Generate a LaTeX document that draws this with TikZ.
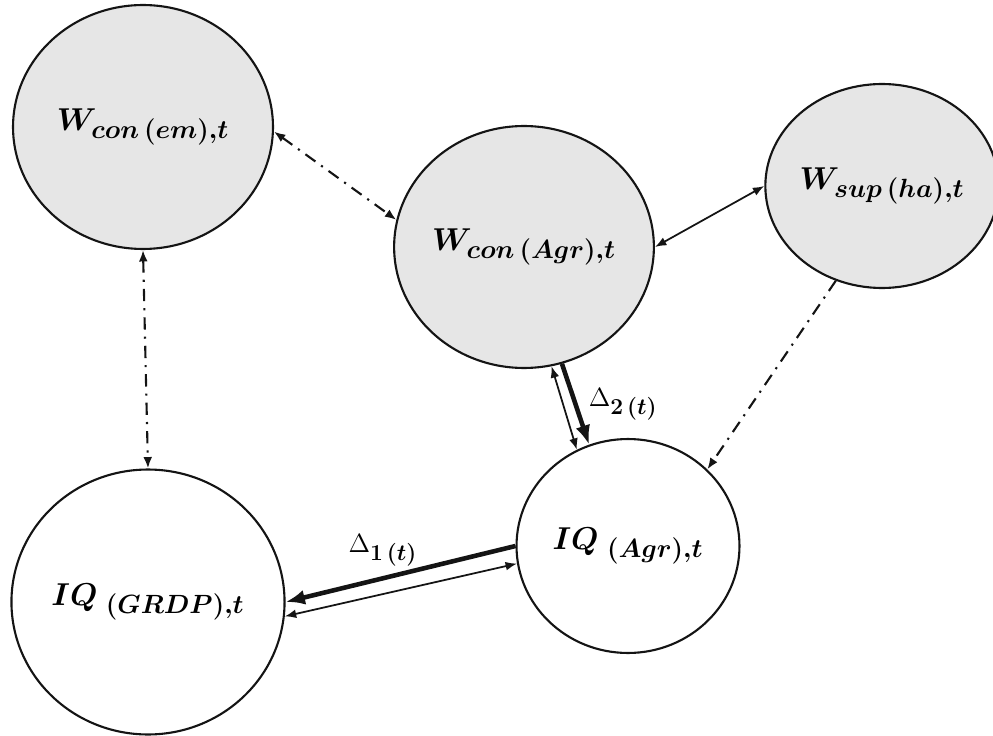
\RequirePackage{fix-cm}
\documentclass[tikz,border=0pt]{standalone}
\usepackage{amsmath,amssymb}
\usetikzlibrary{arrows.meta,shapes.geometric}
\DeclareMathSizes{18}{18}{15}{11}
\DeclareMathSizes{15}{15}{13}{9}
\definecolor{grisW}{HTML}{E6E6E6}
\definecolor{trazo}{HTML}{141414}

\begin{document}
\begin{tikzpicture}[x=0.02cm,y=-0.02cm,>={Latex[length=6.5pt,width=5pt]},
  estado/.style={ellipse,draw=trazo,line width=1.2pt,inner sep=0pt,
    font=\fontsize{18}{20}\selectfont\boldmath},
  bienestar/.style={estado,fill=grisW},
  enlace/.style={draw=trazo,line width=1pt},
  difuso/.style={enlace,line width=1.2pt,dash pattern=on 7pt off 4pt on 1.2pt off 4pt},
  grueso/.style={draw=trazo,line width=2.6pt,-{Latex[length=11pt,width=8.5pt]}},
  delta/.style={font=\fontsize{15}{18}\selectfont}]
  \useasboundingbox (0,0) rectangle (993,736);
  \node[bienestar,minimum width=5.2cm,minimum height=4.88cm] (wem) at (143,127)
    {$W_{con\,(em),t}$};
  \node[bienestar,minimum width=5.08cm,minimum height=4.84cm] (wagr) at (524,247)
    {$W_{con\,(Agr),t}$};
  \node[bienestar,minimum width=4.4cm,minimum height=4.08cm] (wsup) at (882,186)
    {$W_{sup\,(ha),t}$};
  \node[estado,minimum width=4.46cm,minimum height=4.28cm] (iqagr) at (628,546)
    {$IQ_{\;(Agr),t}$};
  \node[estado,minimum width=5.4cm,minimum height=5.3cm] (iqgrdp) at (148,602)
    {$IQ_{\;(GRDP),t}$};
  \draw[difuso,<->] (wem.-2) -- (wagr.168);
  \draw[difuso,<->] (wem.south) -- (iqgrdp.north);
  \draw[enlace,<->] (wsup.west) -- (wagr.east);
  \draw[difuso,->] (wsup.-116) -- (iqagr.44);
  \draw[grueso] (wagr.-72) -- (iqagr.111)
    node[delta,midway,right=3pt] (d2) {$\Delta_{\mathbf{2}\,\boldsymbol{(t)}}$};
  \draw[enlace,<->] (wagr.-77) -- (iqagr.118);
  \draw[grueso] (iqagr.west) -- (iqgrdp.east)
    node[delta,midway,above=0pt,xshift=-10pt] (d1) {$\Delta_{\mathbf{1}\,\boldsymbol{(t)}}$};
  \draw[enlace,<->] (iqagr.189) -- (iqgrdp.-6);
\end{tikzpicture}
\end{document}
